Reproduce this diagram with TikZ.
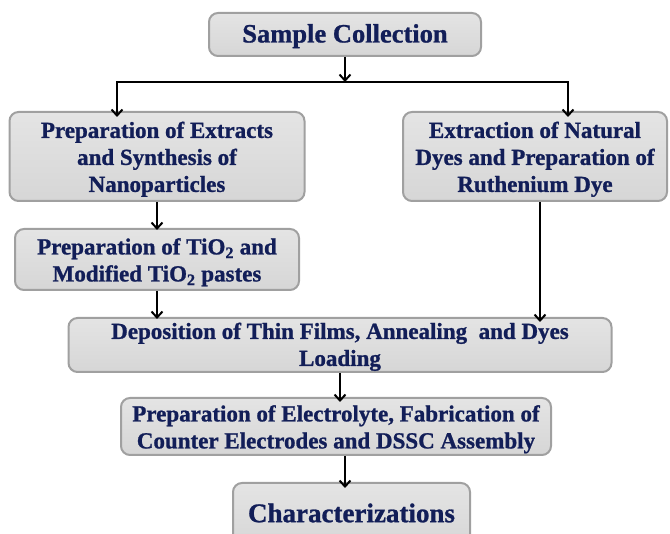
\documentclass[tikz,border=0pt]{standalone}
\usepackage{fontspec}
\setmainfont{Liberation Serif}[BoldFont={Liberation Serif Bold},BoldFeatures={FakeBold=1}]
\usetikzlibrary{arrows.meta}
\definecolor{navy}{RGB}{18,30,88}
\definecolor{boxtop}{RGB}{228,228,228}
\definecolor{boxbot}{RGB}{214,214,214}
\definecolor{boxline}{RGB}{160,160,160}
\newcommand{\boxtext}[2][-3pt]{\raisebox{#1}[\height][\depth]{\begin{tabular}{@{}c@{}}#2\end{tabular}}}
\tikzset{
  stepbox/.style={draw=boxline, line width=2pt, rounded corners=9pt,
    top color=boxtop, bottom color=boxbot, text=navy,
    font=\bfseries\fontsize{23}{27}\selectfont, inner sep=0pt},
  arr/.style={line width=2pt, -{Straight Barb[length=6pt,width=11pt]}},
  link/.style={line width=2pt},
}
\begin{document}
\begin{tikzpicture}[x=1pt,y=-1pt]
\clip (0,0) rectangle (670,534);
\fill[white] (0,0) rectangle (670,534);
\node[stepbox, minimum width=272pt, minimum height=43pt,
  font=\bfseries\fontsize{26.5}{30}\selectfont] (sc) at (345,34.5) {\boxtext[-2pt]{Sample Collection}};
\node[stepbox, minimum width=295pt, minimum height=89pt] (ext) at (157,156.5)
  {\boxtext{Preparation of Extracts\\and Synthesis of\\Nanoparticles}};
\node[stepbox, minimum width=264pt, minimum height=89pt] (nat) at (535,156.5)
  {\boxtext{Extraction of Natural\\Dyes and Preparation of\\Ruthenium Dye}};
\node[stepbox, minimum width=284pt, minimum height=61pt] (tio) at (157,259.5)
  {\boxtext{Preparation of TiO\textsubscript{2} and\\Modified TiO\textsubscript{2} pastes}};
\node[stepbox, minimum width=543pt, minimum height=54pt] (dep) at (340,345)
  {\boxtext[-2pt]{Deposition of Thin Films, Annealing\ \ and Dyes\\Loading}};
\node[stepbox, minimum width=430pt, minimum height=57pt] (ele) at (336,426.5)
  {\boxtext{Preparation of Electrolyte, Fabrication of\\Counter Electrodes and DSSC Assembly}};
\node[stepbox, minimum width=237pt, minimum height=66pt, anchor=north,
  font=\bfseries\fontsize{27}{31}\selectfont] (cha) at (351.5,482)
  {\boxtext[0pt]{Characterizations}};
\coordinate (j) at (345,82);
\coordinate (jl) at (117,82);
\coordinate (jr) at (568,82);
\draw[arr] (sc.south) -- (j);
\draw[link] ([xshift=-1pt]jl) -- ([xshift=1pt]jr);
\draw[arr] (jl) -- ([yshift=-6pt]jl |- ext.north);
\draw[arr] (jr) -- ([yshift=-6pt]jr |- nat.north);
\draw[arr] (ext.south) -- ([yshift=-2pt]ext.south |- tio.north);
\draw[arr] (tio.south) -- ([yshift=-2pt]tio.south |- dep.north);
\draw[arr] ([xshift=5pt]nat.south) -- ([xshift=5pt,yshift=-5pt]nat.south |- dep.north);
\draw[arr] (dep.south) -- ([yshift=-5pt]dep.south |- ele.north);
\draw[arr] ([xshift=9pt]ele.south) -- ([xshift=9pt,yshift=-6pt]ele.south |- cha.north);
\end{tikzpicture}
\end{document}
